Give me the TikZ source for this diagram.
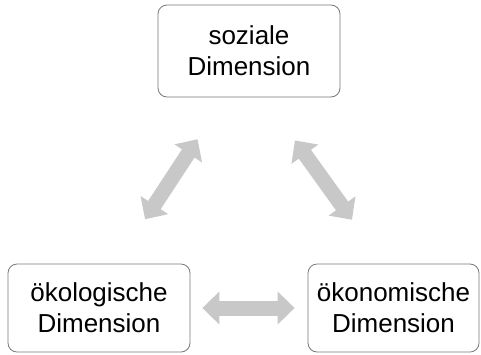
\documentclass[tikz,border=0pt]{standalone}
\usepackage{fontspec}
\setmainfont{Liberation Sans}
\usetikzlibrary{arrows.meta,positioning}
\definecolor{boxline}{RGB}{120,120,120}
\definecolor{arrowgray}{RGB}{200,200,200}

\begin{document}
\begin{tikzpicture}[x=1pt,y=-1pt,
    dimbox/.style={draw=boxline,line width=0.8pt,rounded corners=9pt,align=center,
        minimum height=88pt,font=\fontsize{26}{31}\selectfont,inner sep=0pt},
    bothways/.style={draw=arrowgray,line width=15pt,
        arrows={Triangle[length=17pt,width=32pt]-Triangle[length=17pt,width=32pt]}}]
    \useasboundingbox (0,0) rectangle (481,354);

    % the three dimensions
    \node[dimbox,minimum width=182pt,minimum height=92pt] (soz) at (249,51) {soziale\\Dimension};
    \node[dimbox,minimum width=182pt] (oeko) at (99,308) {ökologische\\Dimension};
    \node[dimbox,minimum width=171pt] (oekon) at (393.5,308) {ökonomische\\Dimension};

    % soziale <-> ökologische
    \draw[bothways,shorten <=53pt,shorten >=50pt] ([xshift=17pt]oeko.north) -- ([xshift=-24pt]soz.south);

    % soziale <-> ökonomische
    \draw[bothways,shorten <=53pt,shorten >=54pt] ([xshift=15pt]soz.south) -- ([xshift=-10pt]oekon.north);

    % ökologische <-> ökonomische
    \draw[bothways,shorten <=12pt,shorten >=13pt] (oeko.east) -- (oekon.west);
\end{tikzpicture}
\end{document}
